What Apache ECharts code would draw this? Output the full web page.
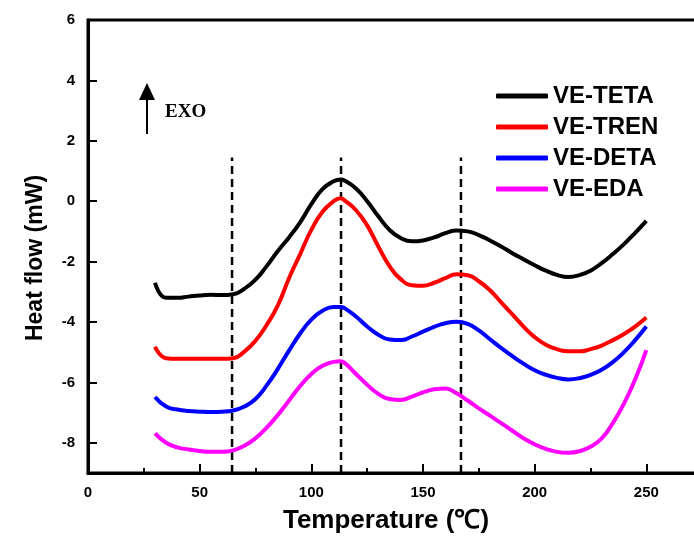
<!DOCTYPE html>
<html><head><meta charset="utf-8">
<script src="https://cdn.jsdelivr.net/npm/echarts@6/dist/echarts.min.js"></script>
<style>html,body{margin:0;padding:0;background:#fff}#c{width:694px;height:537px}</style>
</head><body><div id="c"></div>
<script>
// Temperature samples (°C)
const temps = [30,35,40,45,50,55,60,65,70,75,80,85,90,95,100,105,110,113,115,120,125,130,135,140,145,150,155,160,165,170,175,180,185,190,195,200,205,210,215,220,225,230,235,240,245,250];
// Heat flow (mW)
const teta = [-2.7,-3.2,-3.2,-3.16,-3.12,-3.1,-3.11,-3.08,-2.9,-2.6,-2.15,-1.65,-1.2,-0.7,-0.1,0.4,0.66,0.72,0.68,0.42,0.0,-0.5,-0.95,-1.22,-1.33,-1.3,-1.2,-1.06,-0.97,-1.0,-1.12,-1.3,-1.5,-1.72,-1.92,-2.12,-2.3,-2.44,-2.51,-2.45,-2.3,-2.05,-1.75,-1.42,-1.05,-0.65];
const tren = [-4.82,-5.2,-5.22,-5.22,-5.22,-5.22,-5.22,-5.2,-4.98,-4.62,-4.1,-3.45,-2.55,-1.75,-0.95,-0.35,0.0,0.1,0.02,-0.3,-0.8,-1.5,-2.15,-2.58,-2.78,-2.8,-2.7,-2.55,-2.42,-2.45,-2.65,-2.95,-3.35,-3.75,-4.15,-4.5,-4.75,-4.9,-4.97,-4.97,-4.9,-4.78,-4.6,-4.4,-4.15,-3.85];
const deta = [-6.48,-6.8,-6.9,-6.95,-6.97,-6.98,-6.97,-6.93,-6.8,-6.55,-6.1,-5.55,-4.95,-4.38,-3.92,-3.63,-3.5,-3.5,-3.55,-3.82,-4.15,-4.42,-4.58,-4.6,-4.48,-4.32,-4.16,-4.04,-3.99,-4.06,-4.28,-4.57,-4.86,-5.13,-5.38,-5.6,-5.75,-5.85,-5.9,-5.86,-5.75,-5.58,-5.33,-5.0,-4.6,-4.15];
const eda = [-7.69,-8.0,-8.15,-8.22,-8.27,-8.3,-8.3,-8.25,-8.1,-7.85,-7.5,-7.08,-6.6,-6.12,-5.72,-5.45,-5.32,-5.3,-5.36,-5.72,-6.08,-6.38,-6.55,-6.58,-6.47,-6.33,-6.23,-6.2,-6.36,-6.6,-6.86,-7.1,-7.35,-7.6,-7.85,-8.05,-8.2,-8.3,-8.33,-8.28,-8.13,-7.85,-7.35,-6.7,-5.9,-4.93];
const seriesNames = ['VE-TETA','VE-TREN','VE-DETA','VE-EDA'];
const seriesColors = ['#000000','#ff0000','#0000ff','#ff00ff'];
const guideTemps = [64.5,113.3,167];
const guideTop = 1.45;
const yTickValues = [-8,-6,-4,-2,0,2,4,6];

const allData = [teta, tren, deta, eda];
const series = allData.map((arr, i) => ({
  name: seriesNames[i], type: 'line', smooth: 0.5, showSymbol: false,
  data: temps.map((t, j) => [t, arr[j]]),
  lineStyle: {color: seriesColors[i], width: 4}, itemStyle: {color: seriesColors[i]},
  z: 3
}));
guideTemps.forEach(t => series.push({
  name: 'guide', type: 'line', showSymbol: false, silent: true,
  data: [[t, -9], [t, guideTop]],
  lineStyle: {color: '#000', width: 2.5, type: [8, 5]}, z: 2
}));

const chart = echarts.init(document.getElementById('c'), null, {renderer: 'canvas'});
chart.setOption({
  animation: false,
  backgroundColor: '#fff',
  grid: {left: 88, top: 20, width: 670, height: 453, outerBoundsMode: 'none', containLabel: false, show: true, borderColor: '#000', borderWidth: 3, backgroundColor: 'transparent'},
  xAxis: {
    type: 'value', min: 0, max: 300, interval: 50,
    axisLine: {onZero: false, lineStyle: {color: '#000', width: 3}},
    axisTick: {inside: true, length: 9, lineStyle: {color: '#000', width: 2}},
    minorTick: {show: true, splitNumber: 2, length: 5, lineStyle: {color: '#000', width: 2}},
    axisLabel: {color: '#000', fontFamily: 'Liberation Sans', fontWeight: 'bold', fontSize: 15, margin: 12},
    splitLine: {show: false}
  },
  yAxis: {
    type: 'value', min: -9, max: 6, interval: 1,
    axisLine: {show: true, onZero: false, lineStyle: {color: '#000', width: 3}},
    axisTick: {show: true, inside: true, length: 9, customValues: yTickValues, lineStyle: {color: '#000', width: 2}},
    axisLabel: {color: '#000', fontFamily: 'Liberation Sans', fontWeight: 'bold', fontSize: 15, margin: 13, customValues: yTickValues},
    splitLine: {show: false}
  },
  legend: {
    data: seriesNames, orient: 'vertical', left: 491, top: 79,
    itemWidth: 52, itemHeight: 5, itemGap: 7, icon: 'roundRect',
    textStyle: {color: '#000', fontFamily: 'Liberation Sans', fontWeight: 'bold', fontSize: 24, lineHeight: 24}
  },
  graphic: [
    {type: 'text', x: 386, y: 521, style: {text: 'Temperature (℃)', fill: '#000', font: 'bold 26px "Liberation Sans"', align: 'center', verticalAlign: 'middle'}},
    {type: 'text', x: 36, y: 258, rotation: Math.PI / 2, style: {text: 'Heat flow (mW)', fill: '#000', font: 'bold 23px "Liberation Sans"', align: 'center', verticalAlign: 'middle'}},
    {type: 'line', shape: {x1: 147, y1: 134, x2: 147, y2: 96}, style: {stroke: '#000', lineWidth: 2}},
    {type: 'polygon', shape: {points: [[147, 83], [139, 100], [155, 100]]}, style: {fill: '#000'}},
    {type: 'text', x: 165, y: 112, style: {text: 'EXO', fill: '#000', font: 'bold 19px "Liberation Serif"', verticalAlign: 'middle'}}
  ],
  series: series
});
</script></body></html>
